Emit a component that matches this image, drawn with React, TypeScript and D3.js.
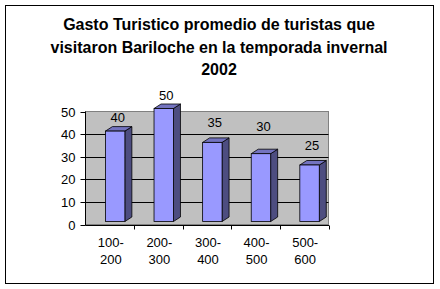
import React, { useEffect, useRef } from 'react';
import * as d3 from 'd3';

const categories = ['100-200', '200-300', '300-400', '400-500', '500-600'];
const values = [40, 50, 35, 30, 25];
const yTicks = [0, 10, 20, 30, 40, 50];
const titleLines = [
  'Gasto Turistico promedio de turistas que',
  'visitaron Bariloche en la temporada invernal',
  '2002',
];
// how far each value label sits above its bar (px), as Excel placed them
const labelLift = [9, 9, 15, 23, 15];

const App = () => {
  const ref = useRef<SVGSVGElement>(null);

  useEffect(() => {
    const width = 440;
    const height = 289;
    const font = 'Arial, "Liberation Sans", sans-serif';
    const svg = d3.select(ref.current);
    svg.selectAll('*').remove();

    const left = 85.5;
    const right = 328.5;
    const x = d3.scaleBand().domain(categories).range([left, right]).padding(0);
    const y = d3.scaleLinear().domain([0, 50]).range([224.5, 111.5]);
    const depthX = 7;
    const depthY = 4.5;
    const lift = 3;

    // outer chart border
    svg.append('rect')
      .attr('x', 5.5).attr('y', 5.5)
      .attr('width', 428).attr('height', 278)
      .attr('fill', '#fff').attr('stroke', '#000').attr('stroke-width', 1);

    // title
    const title = svg.append('text')
      .attr('font-family', font)
      .attr('font-weight', 'bold')
      .attr('font-size', 16)
      .attr('text-anchor', 'middle');
    titleLines.forEach((line, i) => {
      title.append('tspan').attr('x', 219).attr('y', 30 + i * 22.5).text(line);
    });

    // back wall
    svg.append('rect')
      .attr('x', left).attr('y', y(50))
      .attr('width', right - left).attr('height', y(0) - y(50))
      .attr('fill', '#c0c0c0').attr('stroke', '#808080');

    // gridlines
    svg.append('g').selectAll('line')
      .data(yTicks.filter((t) => t > 0 && t < 50)).enter()
      .append('line')
      .attr('x1', left).attr('x2', right)
      .attr('y1', (d) => Math.round(y(d)) + 0.5).attr('y2', (d) => Math.round(y(d)) + 0.5)
      .attr('stroke', '#000');

    // bars
    const bw = x.bandwidth();
    const frontW = bw * 0.4;
    const offset = bw * 0.41;
    const bars = svg.append('g');
    categories.forEach((c, i) => {
      const x0 = (x(c) as number) + offset;
      const x1 = x0 + frontW;
      const yTop = y(values[i]) - lift;
      const yBot = y(0) - lift;
      bars.append('path')
        .attr('d', `M${x1},${yTop}L${x1 + depthX},${yTop - depthY}L${x1 + depthX},${yBot - depthY}L${x1},${yBot}Z`)
        .attr('fill', '#4d4d80').attr('stroke', '#000').attr('stroke-width', 0.8);
      bars.append('path')
        .attr('d', `M${x0},${yTop}L${x0 + depthX},${yTop - depthY}L${x1 + depthX},${yTop - depthY}L${x1},${yTop}Z`)
        .attr('fill', '#7373bf').attr('stroke', '#000').attr('stroke-width', 0.8);
      bars.append('rect')
        .attr('x', x0).attr('y', yTop)
        .attr('width', frontW).attr('height', yBot - yTop)
        .attr('fill', '#9999ff').attr('stroke', '#000').attr('stroke-width', 0.8);
      svg.append('text')
        .attr('x', x0 + frontW / 2 + 2.5)
        .attr('y', yTop - depthY - labelLift[i])
        .attr('dy', '0.35em')
        .attr('text-anchor', 'middle')
        .attr('font-family', font).attr('font-size', 13)
        .text(values[i]);
    });

    // y axis
    const yAxis = svg.append('g');
    yAxis.append('line')
      .attr('x1', left).attr('x2', left)
      .attr('y1', y(50)).attr('y2', y(0) + 1)
      .attr('stroke', '#000');
    yTicks.forEach((t) => {
      const ty = Math.round(y(t)) + 0.5;
      yAxis.append('line')
        .attr('x1', left - 5).attr('x2', left)
        .attr('y1', ty).attr('y2', ty)
        .attr('stroke', '#000');
      yAxis.append('text')
        .attr('x', left - 10).attr('y', ty)
        .attr('dy', '0.35em')
        .attr('text-anchor', 'end')
        .attr('font-family', font).attr('font-size', 13)
        .text(t);
    });

    // x axis
    const xAxis = svg.append('g');
    xAxis.append('line')
      .attr('x1', left).attr('x2', right + 0.5)
      .attr('y1', y(0) + 1).attr('y2', y(0) + 1)
      .attr('stroke', '#000');
    categories.forEach((c, i) => {
      const bx = (x(c) as number) + bw;
      xAxis.append('line')
        .attr('x1', Math.round(bx) + 0.5).attr('x2', Math.round(bx) + 0.5)
        .attr('y1', y(0) + 1).attr('y2', y(0) + 5)
        .attr('stroke', '#000');
      const [a, b] = c.split('-');
      const t = xAxis.append('text')
        .attr('text-anchor', 'middle')
        .attr('font-family', font).attr('font-size', 13);
      const cx = (x(c) as number) + bw / 2 + 1;
      t.append('tspan').attr('x', cx).attr('y', 246.5).text(`${a}-`);
      t.append('tspan').attr('x', cx).attr('y', 264).text(b);
    });

    svg.attr('width', width).attr('height', height);
  }, []);

  return (
    <svg
      ref={ref}
      width={440}
      height={289}
      style={{ position: 'absolute', left: 0, top: 0, background: '#fff' }}
    />
  );
};

export default App;
